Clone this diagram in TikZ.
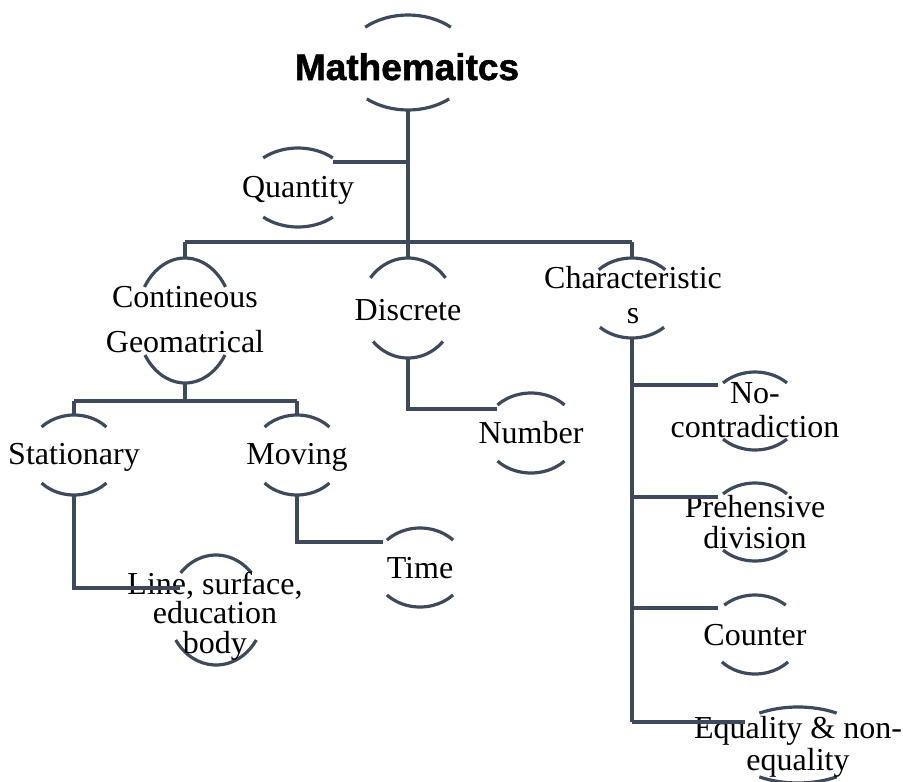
\documentclass[tikz,border=0pt]{standalone}
\usepackage{fontspec}
\setmainfont{Liberation Serif}
\newfontfamily\titlefont{Liberation Sans}[BoldFeatures={FakeBold=1.5}]
\usetikzlibrary{shapes.geometric}
\definecolor{lncol}{RGB}{62,74,92}
\newcommand\lbl[1]{\begin{tabular}[t]{@{}c@{}}#1\end{tabular}}
\newcommand\earcs[5]{%
  \draw[ln] (#1.center) ++(-90-#4:#2 and #3) arc[start angle=-90-#4, end angle=-90+#4, x radius=#2, y radius=#3];
  \draw[ln] (#1.center) ++(90-#5:#2 and #3) arc[start angle=90-#5, end angle=90+#5, x radius=#2, y radius=#3];}
\begin{document}
\begin{tikzpicture}[x=1pt,y=-1pt,
  ln/.style={draw=lncol, line width=3.2pt},
  shp/.style={ellipse, draw=none, inner sep=0pt, outer sep=0pt},
  txt/.style={anchor=base, inner sep=0pt, font=\fontsize{32}{32}\selectfont},
  ttl/.style={anchor=base, inner sep=0pt, font=\titlefont\bfseries\fontsize{37}{40}\selectfont}]
\useasboundingbox (0,0) rectangle (903,782);
% ellipse shapes (invisible, only arcs drawn)
\node[shp, minimum width=128, minimum height=95] (mathE) at (408,62.5) {};
\node[shp, minimum width=105, minimum height=79] (quantE) at (298,187.5) {};
\node[shp, minimum width=96, minimum height=125] (contE) at (185,320.5) {};
\node[shp, minimum width=94, minimum height=100] (discE) at (408,308) {};
\node[shp, minimum width=94, minimum height=80] (charE) at (632,298) {};
\node[shp, minimum width=91, minimum height=80] (statE) at (74,455) {};
\node[shp, minimum width=91, minimum height=80] (movE) at (297,455) {};
\node[shp, minimum width=96, minimum height=110] (lineE) at (216,610) {};
\node[shp, minimum width=94, minimum height=80] (numE) at (531,433) {};
\node[shp, minimum width=92, minimum height=79] (timeE) at (420,567.5) {};
\node[shp, minimum width=92, minimum height=78] (nocE) at (755,411) {};
\node[shp, minimum width=92, minimum height=78] (preE) at (755,522) {};
\node[shp, minimum width=92, minimum height=79] (cntE) at (755,634.5) {};
\node[shp, minimum width=142, minimum height=76] (eqE) at (798,745) {};
% arcs
\earcs{mathE}{64}{47.5}{42}{40}
\earcs{quantE}{52.5}{39.5}{41.5}{41.5}
\earcs{contE}{48}{62.5}{57.5}{56.5}
\earcs{discE}{47}{50}{53}{48}
\earcs{charE}{47}{40}{45}{43}
\earcs{statE}{45.5}{40}{45.5}{45.5}
\earcs{movE}{45.5}{40}{45.5}{45.5}
\earcs{lineE}{48}{55}{47.5}{57}
\earcs{numE}{47}{40}{45.5}{45.5}
\earcs{timeE}{46}{39.5}{46}{46}
\earcs{nocE}{46}{39}{44}{44}
\earcs{preE}{46}{39}{44}{44}
\earcs{cntE}{46}{39.5}{42}{46}
\earcs{eqE}{71}{38}{33}{33}
% texts
\node[ttl] (math) at (407,80) {Mathemaitcs};
\node[txt] (quant) at (298,197) {Quantity};
\node[txt] (cont) at (185,307) {\lbl{Contineous\\[13pt]Geomatrical}};
\node[txt] (disc) at (408,320) {Discrete};
\node[txt] (char) at (633,288) {\lbl{Characteristic\\[3pt]s}};
\node[txt] (stat) at (74,464) {Stationary};
\node[txt] (mov) at (297,464) {Moving};
\node[txt] (line) at (215,594) {\lbl{Line, surface,\\[-2.5pt]education\\[-2.5pt]body}};
\node[txt] (num) at (531,443) {Number};
\node[txt] (time) at (420,578) {Time};
\node[txt] (noc) at (755,403) {\lbl{No-\\[2pt]contradiction}};
\node[txt] (pre) at (755,517) {\lbl{Prehensive\\[-1pt]division}};
\node[txt] (cnt) at (755,645) {Counter};
\node[txt] (eq) at (798,738) {\lbl{Equality \& non-\\equality}};
% connector coordinates
\coordinate (barL) at (185,242);
\coordinate (barM) at (408,242);
\coordinate (barR) at (632,242);
\coordinate (qJ) at (408,162);
\coordinate (qEnd) at (333,162);
\coordinate (bar2L) at (74,401);
\coordinate (bar2M) at (185,401);
\coordinate (bar2R) at (297,401);
\coordinate (lineJ) at (180,588);
\coordinate (timeJ) at (383,542);
\coordinate (numJ) at (497,409);
\coordinate (c1) at (632,385);
\coordinate (c1e) at (718,385);
\coordinate (c2) at (632,497);
\coordinate (c2e) at (718,497);
\coordinate (c3) at (632,608);
\coordinate (c3e) at (718,608);
\coordinate (c4) at (632,722);
\coordinate (c4e) at (745,722);
% connectors
\draw[ln] (mathE.south) -- (barM);
\draw[ln] (qJ) -- (qEnd);
\draw[ln] (barL) -- (barR);
\draw[ln] (barL) -- (contE.north);
\draw[ln] (barM) -- (discE.north);
\draw[ln] (barR) -- (charE.north);
\draw[ln] (contE.south) -- (bar2M);
\draw[ln] (bar2L) -- (bar2R);
\draw[ln] (bar2L) -- (statE.north);
\draw[ln] (bar2R) -- (movE.north);
\draw[ln] (statE.south) |- (lineJ);
\draw[ln] (movE.south) |- (timeJ);
\draw[ln] (discE.south) |- (numJ);
\draw[ln] (charE.south) -- (c4);
\draw[ln] (c1) -- (c1e);
\draw[ln] (c2) -- (c2e);
\draw[ln] (c3) -- (c3e);
\draw[ln] (c4) -- (c4e);
\end{tikzpicture}
\end{document}
